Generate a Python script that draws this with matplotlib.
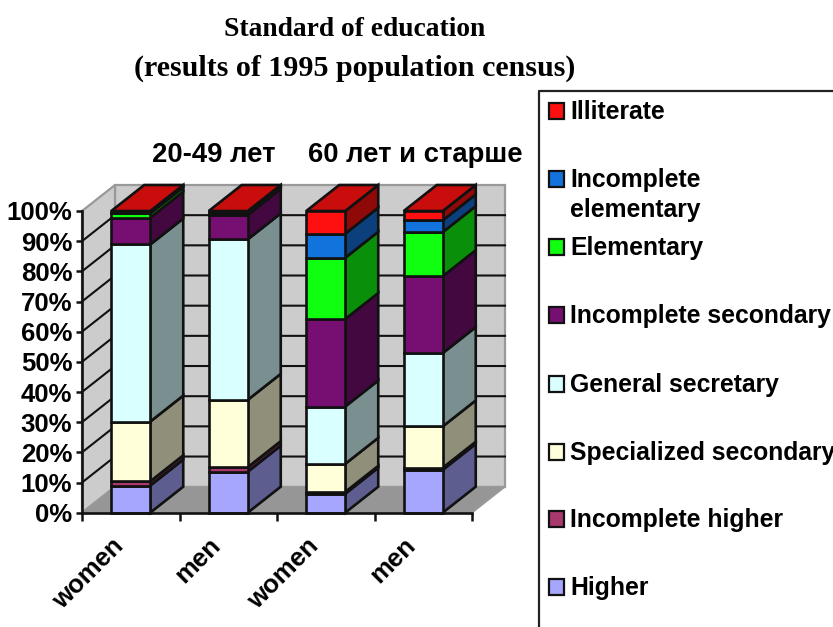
import numpy as np
import matplotlib
matplotlib.use('Agg')
import matplotlib.pyplot as plt
from matplotlib.patches import Polygon, Rectangle

W, H = 833, 627

categories = ['women', 'men', 'women', 'men']
series_names = ['Higher', 'Incomplete higher', 'Specialized secondary', 'General secretary',
                'Incomplete secondary', 'Elementary', 'Incomplete elementary', 'Illiterate']
higher = [9.0, 13.6, 6.3, 14.2]
inc_higher = [1.4, 1.5, 0.6, 0.7]
specialized = [19.8, 22.3, 9.3, 13.7]
general = [58.7, 53.2, 19.0, 24.3]
inc_secondary = [8.9, 8.1, 29.0, 25.5]
elementary = [1.4, 0.4, 20.3, 14.6]
inc_elementary = [0.3, 0.3, 8.0, 3.9]
illiterate = [0.5, 0.6, 7.5, 3.1]
series = [higher, inc_higher, specialized, general, inc_secondary, elementary, inc_elementary, illiterate]
colors = ['#a6a6ff', '#a8386e', '#ffffd9', '#d9ffff', '#770f72', '#10ff10', '#1373dd', '#ff1010']
y_ticks = list(range(0, 101, 10))
legend_labels = ['Illiterate', 'Incomplete\nelementary', 'Elementary', 'Incomplete secondary',
                 'General secretary', 'Specialized secondary', 'Incomplete higher', 'Higher']

EDGE = '#111111'
BAR_W = 0.4
DX = 33 / 97.5   # depth of the fake 3d, in category units
DY = 26 / 3.017  # same, in percent


def shade(c, f):
    r, g, b = matplotlib.colors.to_rgb(c)
    return (r * f, g * f, b * f)


plt.rcParams['font.family'] = ['Liberation Sans', 'DejaVu Sans']
plt.rcParams['font.weight'] = 'bold'

fig = plt.figure(figsize=(W / 100, H / 100), dpi=100)
ax = fig.add_axes([82 / W, 1 - 512.7 / H, 390 / W, 301.7 / H])
ax.set_xlim(0, 4)
ax.set_ylim(0, 100)
ax.patch.set_visible(False)

# walls and floor
wall = dict(facecolor='#cccccc', edgecolor='#999999', linewidth=1.6, clip_on=False, zorder=1)
ax.add_patch(Polygon([(DX, DY), (4 + DX, DY), (4 + DX, 100 + DY), (DX, 100 + DY)], **wall))
ax.add_patch(Polygon([(0, 0), (DX, DY), (DX, 100 + DY), (0, 100)], **wall))
ax.add_patch(Polygon([(0, 0), (4, 0), (4 + DX, DY), (DX, DY)], facecolor='#969696',
                     edgecolor='#999999', linewidth=1.2, clip_on=False, zorder=1.5))
for v in y_ticks[1:-1]:
    ax.plot([0, DX, 4 + DX], [v, v + DY, v + DY], color=EDGE, lw=1.5, clip_on=False, zorder=1.2)

# stacked bars
x = np.arange(4) + 0.5
bottom = np.zeros(4)
for vals, col in zip(series, colors):
    vals = np.array(vals)
    ax.bar(x, vals, BAR_W, bottom=bottom, color=col, edgecolor=EDGE, linewidth=1.9, zorder=3, clip_on=False)
    for xi, b, v in zip(x, bottom, vals):
        xr = xi + BAR_W / 2
        ax.add_patch(Polygon([(xr, b), (xr + DX, b + DY), (xr + DX, b + v + DY), (xr, b + v)],
                             facecolor=shade(col, 0.56), edgecolor=EDGE, linewidth=1.9,
                             clip_on=False, zorder=2.8))
    bottom = bottom + vals
for xi, t in zip(x, bottom):
    xl = xi - BAR_W / 2
    ax.add_patch(Polygon([(xl, t), (xl + BAR_W, t), (xl + BAR_W + DX, t + DY), (xl + DX, t + DY)],
                         facecolor=shade(colors[-1], 0.79), edgecolor=EDGE, linewidth=1.9,
                         clip_on=False, zorder=2.9))

# axes
for s in ['top', 'right']:
    ax.spines[s].set_visible(False)
for s in ['left', 'bottom']:
    ax.spines[s].set_linewidth(1.9)
    ax.spines[s].set_color(EDGE)
    ax.spines[s].set_zorder(4)
ax.set_yticks(y_ticks, [f'{v}%' for v in y_ticks], fontsize=18.5)
ax.tick_params(axis='y', length=4, width=1.8, color=EDGE, pad=3)
ax.set_xticks(range(5), [''] * 5)
ax.tick_params(axis='x', which='major', length=5.5, width=1.8, color=EDGE)
# labels sit left of the bar centres, like the rotated excel labels
ax.set_xticks(x - 0.2, categories, minor=True, fontsize=18.5, rotation=45, ha='right', rotation_mode='anchor')
ax.tick_params(axis='x', which='minor', length=0, pad=15)


def px_text(px, py, s, **kw):
    fig.text(px / W, 1 - py / H, s, va='center', **kw)


# titles
px_text(355, 29, 'Standard of education', family='Liberation Serif', fontsize=19.8, ha='center')
px_text(355, 68, '(results of 1995 population census)', family='Liberation Serif', fontsize=21.6, ha='center')
px_text(152, 155, '20-49 лет', fontsize=19.8)
px_text(308, 155, '60 лет и старше', fontsize=19.8)

# legend box runs off the right and bottom of the picture
fig.add_artist(plt.Line2D([539 / W, 539 / W, 1], [0, 1 - 91 / H, 1 - 91 / H], color='#222222', lw=1.6))
legend_y = [111, 179, 247, 315, 384, 452, 519, 587]
for py, label, col in zip(legend_y, legend_labels, colors[::-1]):
    fig.add_artist(Rectangle((548.5 / W, 1 - (py + 8) / H), 15.5 / W, 16 / H, transform=fig.transFigure,
                             facecolor=col, edgecolor=EDGE, linewidth=1.6))
    fig.text(570 / W, 1 - (py - 11) / H, label, va='top', fontsize=17.8, linespacing=1.3, clip_on=False)

fig.savefig('out.png', dpi=100, facecolor='white')
